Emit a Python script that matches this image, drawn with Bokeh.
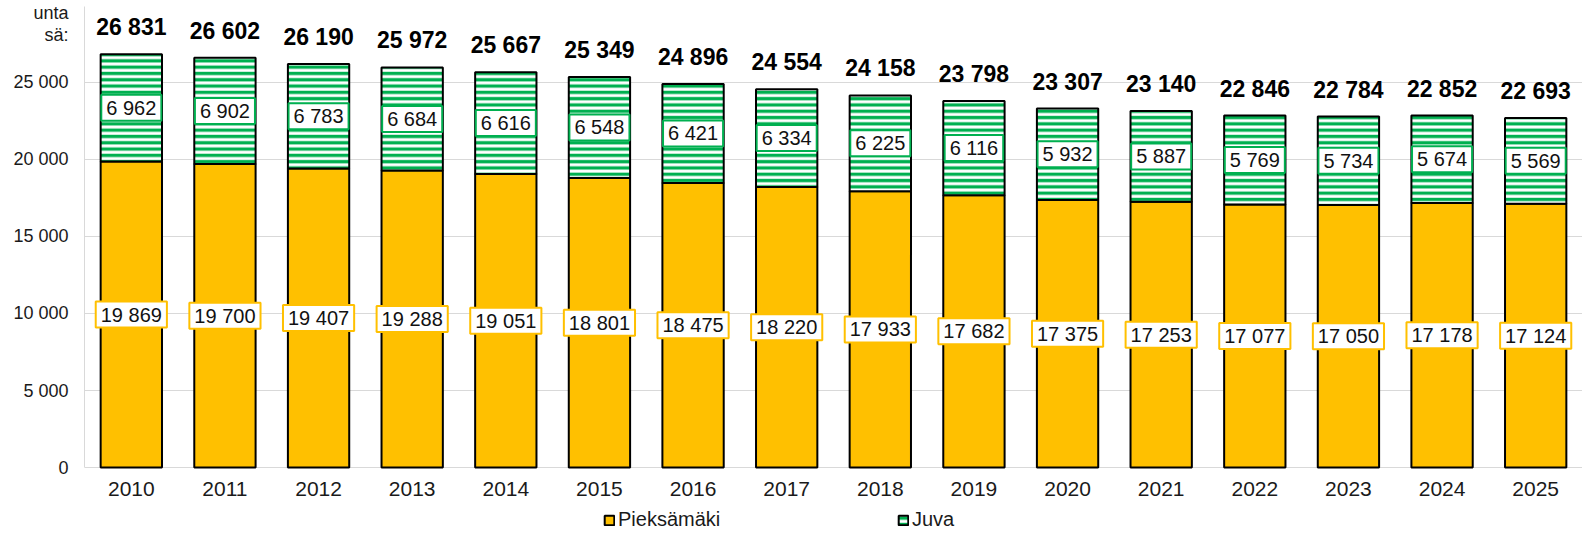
from bokeh.plotting import figure
from bokeh.models import (ColumnDataSource, FactorRange, FixedTicker, CustomJSTickFormatter,
                          Legend, LegendItem, Range1d)
from bokeh.core.properties import value
from bokeh.embed import file_html
from bokeh.resources import INLINE

years = [str(y) for y in range(2010, 2026)]
pieksamaki = [19869, 19700, 19407, 19288, 19051, 18801, 18475, 18220,
              17933, 17682, 17375, 17253, 17077, 17050, 17178, 17124]
juva = [6962, 6902, 6783, 6684, 6616, 6548, 6421, 6334,
        6225, 6116, 5932, 5887, 5769, 5734, 5674, 5569]
y_ticks = [0, 5000, 10000, 15000, 20000, 25000]
side_title = {29540: "unta", 28050: "sä:"}

FONT = "Liberation Sans"
YELLOW = "#FFC000"
GREEN = "#00B050"
GRID = "#D9D9D9"
Y_TOP = 29930
Y_BOTTOM = -4737   # room below the axis for the year labels and the legend


def fmt(v):
    return f"{v:,}".replace(",", " ")


totals = [a + b for a, b in zip(pieksamaki, juva)]
src = ColumnDataSource(dict(
    year=years,
    p=pieksamaki,
    j=juva,
    p_mid=[a / 2 for a in pieksamaki],
    j_mid=[a + b / 2 for a, b in zip(pieksamaki, juva)],
    tot=totals,
    p_lbl=[fmt(v) for v in pieksamaki],
    j_lbl=[fmt(v) for v in juva],
    t_lbl=[fmt(v) for v in totals],
))

p = figure(x_range=FactorRange(*years, range_padding=0), y_range=Range1d(Y_BOTTOM, Y_TOP),
           width=1582, height=540,
           output_backend="svg", toolbar_location=None,
           min_border_left=84, min_border_right=0, min_border_top=6, min_border_bottom=0,
           background_fill_color="white", border_fill_color="white")

p.outline_line_color = None
p.xgrid.grid_line_color = None
p.ygrid.grid_line_color = GRID
p.ygrid.grid_line_width = 1
p.ygrid.ticker = FixedTicker(ticks=y_ticks + [Y_TOP])

rs = p.vbar_stack(["p", "j"], x="year", width=0.655, source=src,
                  fill_color=[YELLOW, "white"],
                  line_color="black", line_width=2,
                  hatch_pattern=[" ", "horizontal_line"],
                  hatch_color=GREEN, hatch_scale=6.3, hatch_weight=3.3)

box_pad = dict(left=5, right=5, top=2, bottom=2)
p.text(x="year", y="p_mid", text="p_lbl", source=src,
       text_align="center", text_baseline="middle",
       text_font=value(FONT), text_font_size="20px", text_color="#111111",
       background_fill_color="white", border_line_color=YELLOW, border_line_width=2,
       padding=box_pad)
p.text(x="year", y="j_mid", text="j_lbl", source=src,
       text_align="center", text_baseline="middle",
       text_font=value(FONT), text_font_size="20px", text_color="#111111",
       background_fill_color="white", border_line_color=GREEN, border_line_width=2,
       padding=box_pad)
p.text(x="year", y="tot", text="t_lbl", source=src,
       text_align="center", text_baseline="middle", y_offset=-27,
       text_font=value(FONT), text_font_size="23px", text_font_style="bold",
       text_color="black")

p.yaxis.ticker = FixedTicker(ticks=y_ticks + list(side_title))
p.yaxis.formatter = CustomJSTickFormatter(
    code="return tick.toString().replace(/\\B(?=(\\d{3})+(?!\\d))/g, ' ');")
p.yaxis.major_label_overrides = dict(side_title)
p.yaxis.bounds = (0, Y_TOP)
p.xaxis.fixed_location = 0
for ax in (p.xaxis[0], p.yaxis[0]):
    ax.major_tick_line_color = None
    ax.minor_tick_line_color = None
    ax.major_tick_out = 0
    ax.major_tick_in = 0
    ax.minor_tick_out = 0
    ax.major_label_text_font = FONT
    ax.major_label_text_color = "#1a1a1a"
p.xaxis.axis_line_color = None
p.yaxis.axis_line_color = GRID
p.yaxis.axis_line_width = 1
p.yaxis.major_label_text_font_size = "18px"
p.yaxis.major_label_standoff = 16
p.xaxis.major_label_text_font_size = "21px"
p.xaxis.major_label_standoff = 14

legend = Legend(items=[LegendItem(label="Pieksämäki", renderers=[rs[0]]),
                       LegendItem(label="Juva", renderers=[rs[1]])],
                orientation="horizontal", location=(519, 9),
                glyph_width=12, glyph_height=12, label_standoff=3,
                label_width=150, spacing=129, padding=0, margin=0,
                border_line_color=None, background_fill_alpha=0,
                label_text_font=FONT, label_text_font_size="20px",
                label_text_color="#1a1a1a")
p.add_layout(legend)

open("out.html", "w").write(file_html(p, INLINE))
